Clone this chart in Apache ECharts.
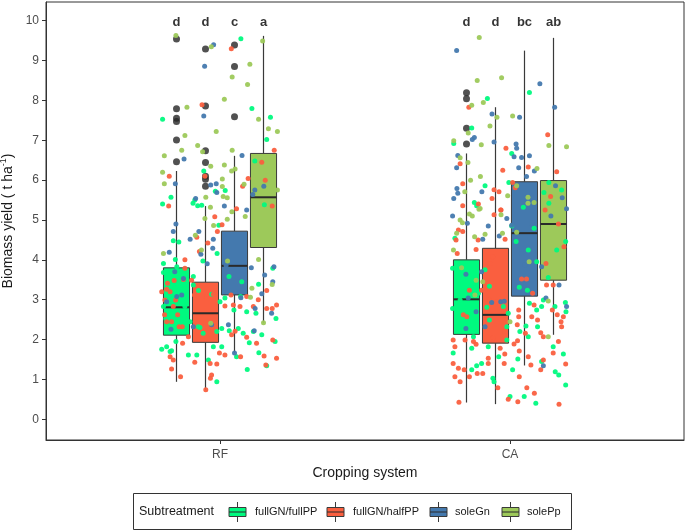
<!DOCTYPE html>
<html><head><meta charset="utf-8">
<script src="https://cdn.jsdelivr.net/npm/echarts@6/dist/echarts.min.js"></script>
<style>html,body{margin:0;padding:0;background:#fff}#c{width:685px;height:531px}</style>
</head><body><div id="c"></div>
<script>
// ---------- data ----------
const systems = ['RF', 'CA'];
const subtreatments = ['fullGN/fullPP', 'fullGN/halfPP', 'soleGn', 'solePp'];
const colors = ['#00FA7F', '#FA5F3F', '#4479AE', '#9DC95A'];
const yTicks = [0, 1, 2, 3, 4, 5, 6, 7, 8, 9, 10];
const xTicks = [1, 2];

// box stats: [lower whisker, Q1, median, Q3, upper whisker] for RF, CA
const boxFullFull = [[0.94, 2.11, 2.81, 3.80, 6.23], [0.42, 2.13, 3.01, 4.00, 6.67]];
const boxFullHalf = [[0.74, 1.93, 2.66, 3.44, 5.35], [0.38, 1.91, 2.62, 4.29, 7.83]];
const boxSoleGn   = [[1.66, 3.12, 3.85, 4.72, 6.61], [1.35, 3.09, 4.67, 5.96, 9.25]];
const boxSolePp   = [[2.41, 4.31, 5.57, 6.67, 9.62], [2.12, 3.49, 4.90, 5.99, 9.57]];

// outliers for RF, CA
const outFullFull = [[9.54, 7.79, 7.55, 7.47, 7.01, 6.46], [8.19, 8.04, 7.30, 6.91]];
const outFullHalf = [[9.29, 7.86, 6.74, 6.44, 6.10, 6.02, 5.85], []];
const outSoleGn   = [[9.39, 8.85, 7.59], []];
const outSolePp   = [[], []];

// significance letters
const lettersRF = ['d', 'd', 'c', 'a'];
const lettersCA = ['d', 'd', 'bc', 'ab'];
const letterLevel = 10;

// jittered observations: [jitter offset (category units), yield]
const jitFullFullRF = [[0.072,9.55],[0.110,7.80],[-0.198,7.53],[0.174,7.58],[0.161,7.02],[0.12,6.48],[-0.056,6.23],[0.018,5.74],[-0.016,5.72],[-0.169,5.57],[-0.087,5.50],[-0.093,5.42],[-0.198,5.40],[-0.077,5.36],[-0.063,5.37],[0.153,5.38],[-0.004,4.87],[-0.161,4.48],[-0.142,4.45],[-0.010,4.16],[-0.059,3.97],[-0.154,4.01],[-0.195,3.91],[-0.149,3.83],[0.182,3.79],[-0.092,3.58],[0.031,3.58],[0.075,3.45],[0.133,3.39],[-0.074,3.23],[0.017,3.04],[0.071,3.08],[0,2.95],[0.048,2.74],[0.092,2.70],[0.124,2.66],[0.193,2.53],[-0.195,2.83],[-0.121,2.83],[-0.187,2.53],[-0.175,2.32],[-0.144,2.53],[-0.069,2.30],[-0.103,2.45],[0.006,2.28],[0.032,2.22],[0.063,2.28],[0.08,2.16],[0.101,1.92],[0.115,2.20],[0.134,1.67],[0.144,2.12],[0.161,1.34],[0.190,1.95],[0.094,1.25],[0.057,1.57],[-0.023,1.82],[0.006,1.82],[-0.040,1.49],[-0.080,1.61],[-0.109,1.61],[-0.011,0.94],[-0.172,1.70],[-0.201,1.76],[-0.184,1.82],[-0.152,1.95],[-0.167,1.72],[-0.195,3.68],[-0.138,3.24],[-0.161,3.41],[-0.162,2.53],[-0.121,2.53],[-0.092,3.37],[-0.029,3.14],[-0.058,2.16],[-0.011,2.20],[-0.075,2.32]];
const jitFullHalfRF = [[0.039,9.30],[-0.062,7.89],[0.187,6.75],[0.144,6.45],[-0.175,6.10],[-0.052,6.10],[0.097,6.04],[0.156,6.00],[0.078,5.85],[-0.177,5.35],[0.18,5.35],[0.057,5.28],[-0.018,5.08],[0.007,4.88],[-0.009,4.71],[-0.08,4.57],[-0.042,4.42],[-0.071,4.21],[-0.121,4.00],[-0.121,3.79],[-0.098,3.49],[-0.158,3.48],[0.161,3.23],[-0.201,3.20],[-0.184,3.26],[-0.088,3.12],[-0.023,3.14],[0.038,3.12],[0.092,3.08],[0.132,3.00],[0.017,2.84],[0.046,2.87],[0.069,2.83],[0.115,2.83],[0.161,2.78],[0.18,2.78],[0.195,2.87],[-0.190,2.99],[-0.161,2.83],[-0.146,2.62],[-0.167,2.45],[-0.13,2.32],[-0.029,2.32],[0.052,2.21],[0.040,2.12],[0.092,2.06],[0.126,1.91],[0.152,1.59],[0.158,1.36],[0.182,1.99],[0.195,1.53],[0.071,1.57],[0.017,1.61],[-0.002,1.66],[-0.011,1.39],[-0.034,1.40],[-0.087,1.43],[-0.033,1.03],[-0.029,1.11],[-0.049,0.74],[-0.136,1.07],[-0.167,1.26],[-0.161,1.49],[-0.172,1.57],[-0.129,1.91],[-0.109,2.07],[-0.181,3.41],[-0.172,3.20],[-0.153,2.99],[-0.126,3.51],[-0.191,2.62],[-0.184,2.45],[-0.141,2.32],[-0.046,3.08]];
const jitSoleGnRF = [[-0.022,9.40],[-0.053,8.86],[-0.056,7.61],[-0.124,6.53],[0.076,6.62],[-0.154,5.91],[-0.032,5.88],[-0.013,5.91],[0.151,5.85],[-0.011,5.69],[0.12,5.75],[0.113,5.64],[-0.084,5.54],[0.015,5.35],[0.092,5.25],[-0.152,4.90],[-0.161,4.71],[-0.073,4.71],[-0.103,4.52],[-0.023,4.52],[-0.025,4.29],[-0.175,4.19],[-0.066,4.14],[0.108,3.80],[-0.044,3.90],[0.021,3.86],[0.186,3.83],[0.154,3.62],[0.182,3.45],[-0.126,3.53],[-0.149,3.08],[0.072,3.05],[0.144,3.15],[0.121,2.78],[0.178,2.66],[-0.184,2.95],[-0.092,2.32],[0.029,2.37],[0.118,2.22],[-0.132,3.12],[-0.156,3.70],[-0.169,2.26],[-0.029,2.37],[0.05,1.66]];
const jitSolePpRF = [[-0.152,9.63],[-0.03,9.35],[0.147,9.49],[0.103,8.91],[0.042,8.59],[0.095,8.40],[0.015,8.03],[-0.114,7.83],[0.133,7.53],[0.167,7.29],[0.198,7.22],[-0.013,7.22],[-0.121,7.12],[-0.077,6.87],[-0.132,6.75],[-0.060,6.71],[0.042,6.75],[-0.192,6.61],[-0.032,6.35],[0.015,6.38],[0.052,6.28],[0.040,6.23],[-0.198,6.20],[-0.192,5.91],[0.008,6.03],[0.008,5.84],[0.083,5.90],[0.198,5.75],[-0.049,5.57],[0.011,5.59],[0.025,5.56],[-0.033,5.32],[0.041,5.21],[0.087,5.09],[-0.052,5.04],[-0.022,4.86],[0.025,5.02],[-0.085,4.62],[-0.064,4.25],[-0.195,4.16],[0.133,4.01],[0.026,3.97],[0.18,3.38],[0.11,3.29],[0.105,3.06],[-0.032,2.41],[0.15,2.42]];

const jitFullFullCA = [[0.067,8.20],[-0.078,8.05],[-0.132,7.31],[-0.194,6.92],[0.006,6.67],[-0.086,5.86],[-0.004,5.94],[-0.123,5.44],[-0.115,5.36],[0.046,5.32],[0.134,5.94],[0.117,5.69],[0.178,5.75],[0.134,5.42],[-0.19,4.54],[0.006,4.85],[-0.198,3.79],[-0.172,2.99],[-0.198,2.78],[-0.132,2.36],[-0.109,3.16],[-0.086,3.75],[-0.071,3.34],[-0.080,2.81],[-0.071,2.49],[-0.006,2.66],[-0.011,2.32],[-0.023,2.83],[-0.011,1.99],[0.034,2.20],[0.055,2.34],[0.067,2.91],[0.092,2.74],[0.095,2.32],[0.115,2.99],[0.109,2.83],[0.155,2.83],[0.193,2.70],[0.191,2.93],[0.149,1.82],[0.184,1.64],[0.168,1.11],[0.156,1.19],[0.192,0.86],[0.109,1.45],[0.063,2.07],[0.049,0.57],[0.089,0.40],[0,0.57],[0.027,1.51],[-0.039,1.57],[-0.055,0.94],[-0.059,1.03],[-0.132,1.24],[-0.115,1.34],[-0.098,1.40],[-0.196,1.66],[-0.132,1.78],[-0.126,2.07],[-0.075,1.82],[0.009,1.24],[0.021,4.46],[0.063,4.25],[0.092,3.95],[0.032,3.31],[0.060,3.24],[0.083,4.79],[0.192,4.46],[0.132,3.56],[0.161,4.25]];
const jitFullHalfCA = [[-0.142,7.83],[0.130,7.14],[-0.014,6.80],[-0.172,6.41],[-0.025,6.25],[0.063,6.33],[0.161,6.21],[-0.163,5.91],[-0.055,5.76],[-0.038,5.71],[0.009,5.94],[-0.062,5.54],[-0.109,5.40],[-0.163,5.36],[-0.032,5.25],[0.018,5.81],[0.140,5.59],[-0.178,4.75],[-0.163,4.71],[-0.186,4.50],[-0.11,4.50],[-0.055,5.13],[-0.031,5.25],[-0.017,4.52],[-0.182,4.16],[-0.117,4.26],[-0.14,3.24],[-0.161,2.62],[-0.149,2.57],[-0.098,3.24],[-0.069,3.91],[-0.06,4.08],[-0.071,2.99],[-0.046,2.95],[-0.017,2.20],[0.014,1.89],[0.026,1.97],[0.030,2.74],[0.030,2.57],[0.025,2.37],[0.053,2.16],[0.083,2.87],[0.075,2.57],[0.095,2.49],[0.106,2.17],[0.115,2.07],[0.146,2.74],[0.163,2.62],[0.176,2.45],[0.184,2.57],[0.178,2.32],[0.167,1.95],[0.149,1.66],[0.192,1.39],[0.169,0.38],[0.115,1.49],[0.106,1.24],[0.072,1.36],[0.063,1.57],[0.058,0.79],[0.084,0.65],[0.027,0.44],[-0.006,0.50],[0.032,1.71],[-0.018,1.64],[-0.020,1.40],[-0.034,1.78],[-0.042,0.79],[-0.075,1.53],[-0.075,1.40],[-0.196,1.40],[-0.178,1.28],[-0.190,1.07],[-0.172,0.94],[-0.176,0.43],[-0.158,1.24],[-0.14,1.07],[-0.113,1.15],[-0.094,1.15],[-0.196,1.99],[-0.19,1.82],[-0.155,1.99],[-0.126,1.95],[-0.117,1.88],[-0.058,2.05],[0.032,1.07],[0.040,3.52],[0.057,3.52],[0.078,3.16],[0.121,5.25],[0.167,4.90],[0.186,4.33],[0.124,3.91],[0.149,3.37],[0.126,3.37]];
const jitSoleGnCA = [[-0.184,9.25],[0.103,8.42],[0.154,7.83],[-0.062,7.66],[0.033,7.58],[-0.123,7.07],[-0.130,7.02],[-0.055,6.96],[0.023,6.80],[0.021,6.91],[-0.18,6.62],[0.014,6.59],[0.04,6.57],[0.067,6.61],[-0.184,6.31],[0.030,6.31],[0.084,6.23],[0.057,6.09],[-0.183,5.79],[-0.18,5.67],[-0.097,5.71],[-0.194,5.54],[0.157,5.86],[0.18,5.56],[0.195,5.28],[-0.198,5.10],[-0.147,4.92],[-0.094,4.52],[-0.075,4.85],[-0.011,5.04],[-0.037,4.60],[-0.152,3.64],[-0.144,3.04],[-0.117,2.70],[-0.152,2.28],[-0.098,3.70],[-0.063,2.93],[-0.032,2.95],[-0.020,2.96],[-0.086,2.32],[0.124,3.04],[0.195,2.83],[0.115,1.34],[0.040,4.16],[0.052,3.87],[0.006,4.87],[0.075,4.92],[0.141,5.10],[0.109,3.83],[0.169,3.37]];
const jitSolePpCA = [[-0.106,9.58],[-0.113,8.50],[-0.029,8.57],[-0.132,7.88],[-0.092,7.95],[-0.045,7.58],[0.009,7.61],[-0.069,7.36],[-0.144,7.18],[-0.194,6.99],[-0.099,6.89],[0.134,6.87],[0.195,6.84],[-0.172,6.56],[-0.145,6.44],[0.093,6.29],[-0.102,6.09],[-0.136,6.00],[-0.156,5.71],[-0.008,5.61],[-0.103,5.29],[0.023,5.86],[0.062,5.57],[0.062,5.42],[0.083,5.44],[-0.172,5.00],[-0.164,4.93],[-0.14,5.15],[-0.13,5.10],[-0.107,5.27],[-0.184,4.67],[-0.122,4.58],[-0.086,4.64],[-0.031,5.13],[-0.026,4.67],[-0.195,4.25],[-0.167,3.80],[-0.117,3.49],[-0.121,3.12],[-0.094,3.45],[0,2.45],[0.132,2.07],[0.132,2.97],[0.066,3.95],[0.023,4.69]];

// ---------- assembly ----------
const boxes = [boxFullFull, boxFullHalf, boxSoleGn, boxSolePp];
const outliers = [outFullFull, outFullHalf, outSoleGn, outSolePp];
const jitters = [[jitFullFullRF, jitFullFullCA], [jitFullHalfRF, jitFullHalfCA], [jitSoleGnRF, jitSoleGnCA], [jitSolePpRF, jitSolePpCA]];
const letters = [lettersRF, lettersCA];

const FONT = 'Liberation Sans, Arial, sans-serif';
const DODGE = 0.1, HALF = 0.045;
const boxX = (g, s) => g + 1 + (s - 1.5) * DODGE;

function renderBox(params, api) {
  const x = api.value(0);
  const lo = api.value(1), q1 = api.value(2), md = api.value(3), q3 = api.value(4), hi = api.value(5);
  const tl = api.coord([x - HALF, q3]);
  const br = api.coord([x + HALF, q1]);
  const pHi = api.coord([x, hi]), pQ3 = api.coord([x, q3]), pQ1 = api.coord([x, q1]), pLo = api.coord([x, lo]);
  const pMd = api.coord([x, md]);
  const wl = {stroke: '#3a3a3a', lineWidth: 1.2};
  return {
    type: 'group',
    children: [
      {type: 'line', shape: {x1: pHi[0], y1: pHi[1], x2: pQ3[0], y2: pQ3[1]}, style: wl},
      {type: 'line', shape: {x1: pLo[0], y1: pLo[1], x2: pQ1[0], y2: pQ1[1]}, style: wl},
      {type: 'rect', shape: {x: tl[0], y: tl[1], width: br[0] - tl[0], height: br[1] - tl[1]},
        style: {fill: api.visual('color'), stroke: '#3a3a3a', lineWidth: 1}},
      {type: 'line', shape: {x1: tl[0], y1: pMd[1], x2: br[0], y2: pMd[1]}, style: {stroke: '#2a2a2a', lineWidth: 2}}
    ]
  };
}

const series = [];
subtreatments.forEach((name, s) => {
  series.push({
    type: 'custom', name: name, z: 2, silent: true,
    itemStyle: {color: colors[s]},
    renderItem: renderBox,
    encode: {x: 0, y: [1, 2, 3, 4, 5]},
    data: systems.map((sys, g) => [boxX(g, s)].concat(boxes[s][g]))
  });
});
subtreatments.forEach((name, s) => {
  const d = [];
  systems.forEach((sys, g) => outliers[s][g].forEach(v => d.push([boxX(g, s), v])));
  series.push({
    type: 'scatter', name: name + ' outliers', z: 3, silent: true,
    symbolSize: 7, itemStyle: {color: '#262626'}, data: d
  });
});
subtreatments.forEach((name, s) => {
  const d = [];
  systems.forEach((sys, g) => jitters[s][g].forEach(p => d.push([g + 1 + p[0], p[1]])));
  series.push({
    type: 'scatter', name: name + ' points', z: 4, silent: true,
    symbolSize: 5, itemStyle: {color: colors[s], opacity: 0.95}, data: d
  });
});
const letterData = [];
systems.forEach((sys, g) => letters[g].forEach((l, s) => letterData.push({name: l, value: [boxX(g, s), letterLevel]})));
series.push({
  type: 'scatter', name: 'letters', z: 5, silent: true,
  symbol: 'circle', symbolSize: 1, itemStyle: {color: 'rgba(0,0,0,0)'},
  label: {show: true, position: 'inside', offset: [0, 2], formatter: '{b}', fontWeight: 'bold', fontSize: 13,
    color: '#000', fontFamily: FONT},
  data: letterData
});

// legend drawn as graphics
const legIconX = [229, 327, 430, 502];
const legTextX = [255, 353, 455, 527];
const legendChildren = [
  {type: 'rect', shape: {x: 133.5, y: 493.5, width: 438, height: 36}, style: {fill: '#fff', stroke: '#333', lineWidth: 1}},
  {type: 'text', x: 139, y: 512, style: {text: 'Subtreatment', fontSize: 12.5, fill: '#1a1a1a',
    fontFamily: FONT, verticalAlign: 'middle'}}
];
subtreatments.forEach((name, s) => {
  const x0 = legIconX[s], cx = x0 + 8.5;
  legendChildren.push(
    {type: 'line', shape: {x1: cx, y1: 502, x2: cx, y2: 522}, style: {stroke: '#3a3a3a', lineWidth: 1}},
    {type: 'rect', shape: {x: x0, y: 507.5, width: 17, height: 9}, style: {fill: colors[s], stroke: '#3a3a3a', lineWidth: 1}},
    {type: 'line', shape: {x1: x0, y1: 512, x2: x0 + 17, y2: 512}, style: {stroke: '#2a2a2a', lineWidth: 1}},
    {type: 'text', x: legTextX[s], y: 512, style: {text: name, fontSize: 11, fill: '#1a1a1a',
      fontFamily: FONT, verticalAlign: 'middle'}}
  );
});

const chart = echarts.init(document.getElementById('c'), null, {renderer: 'canvas'});
chart.setOption({
  animation: false,
  backgroundColor: '#fff',
  textStyle: {fontFamily: FONT},
  grid: {left: 46, right: 1, top: 2, bottom: 91, containLabel: false, outerBoundsMode: 'none',
    show: true, borderColor: '#333', borderWidth: 1, backgroundColor: 'transparent'},
  xAxis: {
    type: 'value', min: 0.4, max: 2.6,
    name: 'Cropping system', nameLocation: 'middle', nameGap: 25,
    nameTextStyle: {fontSize: 14, color: '#1a1a1a', fontFamily: FONT},
    axisLine: {show: true, onZero: false, lineStyle: {color: '#333'}},
    axisTick: {show: true, length: 4, customValues: xTicks, lineStyle: {color: '#333'}},
    axisLabel: {customValues: xTicks, fontSize: 12, color: '#4d4d4d', margin: 9, fontFamily: FONT,
      formatter: v => systems[Math.round(v) - 1] || ''},
    splitLine: {show: false}
  },
  yAxis: {
    type: 'value', min: -0.52, max: 10.47,
    name: 'Biomass yield ( t ha{sup|-1})', nameLocation: 'middle', nameGap: 26, nameRotate: 90,
    nameTextStyle: {fontSize: 14, color: '#1a1a1a', fontFamily: FONT,
      rich: {sup: {fontSize: 9, color: '#1a1a1a', fontFamily: FONT, padding: [0, 0, 8, 0]}}},
    axisLine: {show: true, lineStyle: {color: '#333'}},
    axisTick: {show: true, length: 4, customValues: yTicks, lineStyle: {color: '#333'}},
    axisLabel: {customValues: yTicks, fontSize: 12, color: '#4d4d4d', margin: 7, fontFamily: FONT},
    splitLine: {show: false}
  },
  series: series,
  graphic: [{type: 'group', silent: true, children: legendChildren}]
});
</script>
</body></html>
